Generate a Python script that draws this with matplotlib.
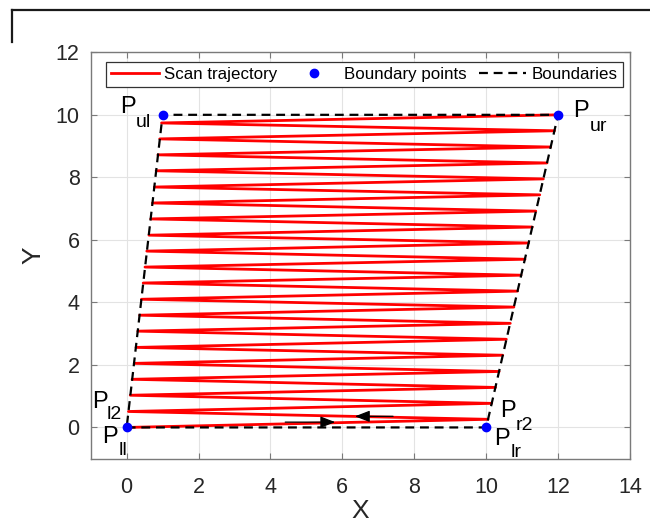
import matplotlib
matplotlib.use("Agg")
import matplotlib.pyplot as plt
from matplotlib.lines import Line2D

plt.rcParams["font.family"] = ["Liberation Sans", "DejaVu Sans"]

# scan path: alternates left boundary / right boundary, ends at P_ur
traj_x = [0.00, 10.05, 0.05, 10.15, 0.10, 10.26, 0.15, 10.36, 0.21, 10.46,
          0.26, 10.56, 0.31, 10.67, 0.36, 10.77, 0.41, 10.87, 0.46, 10.97,
          0.51, 11.08, 0.56, 11.18, 0.62, 11.28, 0.67, 11.38, 0.72, 11.49,
          0.77, 11.59, 0.82, 11.69, 0.87, 11.79, 0.92, 11.90, 0.97, 12.00]
traj_y = [0.00, 0.26, 0.51, 0.77, 1.03, 1.28, 1.54, 1.79, 2.05, 2.31,
          2.56, 2.82, 3.08, 3.33, 3.59, 3.85, 4.10, 4.36, 4.62, 4.87,
          5.13, 5.38, 5.64, 5.90, 6.15, 6.41, 6.67, 6.92, 7.18, 7.44,
          7.69, 7.95, 8.21, 8.46, 8.72, 8.97, 9.23, 9.49, 9.74, 10.00]

# boundary corners (ll, lr, ur, ul)
pts_x = [0, 10, 12, 1]
pts_y = [0, 0, 10, 10]
bnd_x = [0, 10, 12, 1, 0]
bnd_y = [0, 0, 10, 10, 0]

# labels: main letter, subscript, positions of each part
lbl_sub = ["ul", "ur", "l2", "ll", "r2", "lr"]
lbl_px = [-0.19, 12.42, -0.96, -0.69, 10.39, 10.22]
lbl_py = [10.05, 9.92, 0.61, -0.51, 0.32, -0.57]
lbl_sx = [0.26, 12.89, -0.55, -0.21, 10.83, 10.69]
lbl_sy = [9.60, 9.47, 0.26, -0.89, -0.09, -0.96]

# direction arrows (start -> end)
arrows = [((4.41, 0.17), (5.80, 0.17)), ((7.41, 0.355), (6.35, 0.355))]

xticks = [0, 2, 4, 6, 8, 10, 12, 14]
yticks = [0, 2, 4, 6, 8, 10, 12]

fig = plt.figure(figsize=(6.5, 5.26), dpi=100)
ax = fig.add_axes([90.7 / 650, 1 - 458.7 / 526, 539.3 / 650, 406.4 / 526])

ax.plot(traj_x, traj_y, color="red", lw=2.0, label="Scan trajectory", zorder=2)
ax.plot(pts_x, pts_y, "o", color="blue", ms=6, label="Boundary points", zorder=4)
ax.plot(bnd_x, bnd_y, "--", color="black", lw=1.6, dashes=(4, 2.6),
        label="Boundaries", zorder=3)

for s, px, py, sx, sy in zip(lbl_sub, lbl_px, lbl_py, lbl_sx, lbl_sy):
    ax.text(px, py, "P", fontsize=17, color="black", va="baseline", ha="left")
    ax.text(sx, sy, s, fontsize=14, color="black", va="baseline", ha="left")

for start, end in arrows:
    ax.annotate("", xy=end, xytext=start,
                arrowprops=dict(arrowstyle="-|>,head_length=0.9,head_width=0.35",
                                color="black", lw=0.9, shrinkA=0, shrinkB=0),
                zorder=5)

ax.set_xlim(-1, 14)
ax.set_ylim(-1, 12)
ax.set_xticks(xticks)
ax.set_yticks(yticks)
ax.grid(True, color="#e3e3e3", lw=0.8)
ax.set_axisbelow(True)

axcol = "#7a7a7a"
for sp in ax.spines.values():
    sp.set_color(axcol)
    sp.set_linewidth(1.0)
ax.tick_params(direction="in", length=4, width=0.8, color=axcol,
               top=True, right=True, labelsize=15.5, labelcolor="#262626")
ax.tick_params(axis="x", pad=13)
ax.tick_params(axis="y", pad=8)

ax.set_xlabel("X", fontsize=19, color="#262626", va="center")
ax.xaxis.set_label_coords(0.5, -0.128)
ax.set_ylabel("Y", fontsize=19, color="#262626", va="center")
ax.yaxis.set_label_coords(-0.107, 0.5)

leg = ax.legend(loc="upper left", bbox_to_anchor=(0.0284, 0.904, 0.9587, 0.072),
                mode="expand", ncol=3, fontsize=12.2, frameon=True, fancybox=False,
                handlelength=2.8, handletextpad=0.35, columnspacing=0.5,
                borderaxespad=0, borderpad=0.3)
leg.get_frame().set_edgecolor("#333333")
leg.get_frame().set_linewidth(0.9)
leg.get_frame().set_alpha(1)

# partial frame at top-left of the figure
fig.add_artist(Line2D([12 / 650, 1], [1 - 10 / 526, 1 - 10 / 526],
                      transform=fig.transFigure, color="#1a1a1a", lw=1.6))
fig.add_artist(Line2D([12 / 650, 12 / 650], [1 - 10 / 526, 1 - 42 / 526],
                      transform=fig.transFigure, color="#1a1a1a", lw=1.6))

fig.savefig("out.png", dpi=100)
